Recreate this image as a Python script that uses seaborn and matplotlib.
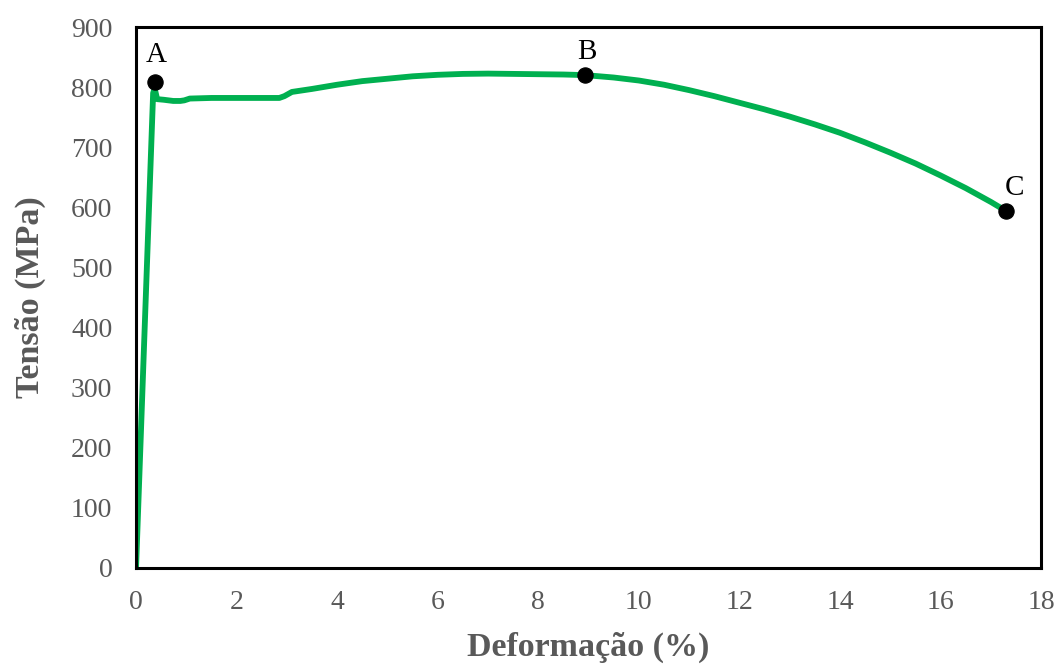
import matplotlib
matplotlib.use("Agg")
import matplotlib.pyplot as plt
import seaborn as sns
import pandas as pd

strain = [0.0, 0.34, 0.37, 0.42, 0.55, 0.74, 0.88, 0.96, 1.07, 1.5, 2.0, 2.5, 2.85, 2.95, 3.1, 3.5, 4.0, 4.5, 5.0, 5.5,
          6.0, 6.5, 7.0, 7.5, 8.0, 8.5, 8.93, 9.5, 10.0, 10.5, 11.0, 11.5, 12.0, 12.5, 13.0, 13.5, 14.0, 14.5,
          15.0, 15.5, 16.0, 16.5, 17.0, 17.3]
stress = [0.0, 790, 798, 780, 779, 777, 777, 778, 781, 782, 782, 782, 782, 785, 792, 797, 804, 810, 814, 818,
          820.5, 822, 822.5, 822, 821.5, 821, 820, 816, 811, 804, 795, 785, 774, 763, 751, 738, 724, 708,
          691, 673, 653, 632, 609, 594]

point_labels = ["A", "B", "C"]
point_x = [0.38, 8.93, 17.3]
point_y = [808, 820, 594]
label_x = [0.4, 8.97, 17.47]
label_y = [853, 858, 632]

sns.set_theme(style="white")
plt.rcParams["font.family"] = ["Liberation Serif", "DejaVu Serif"]

fig = plt.figure(figsize=(10.57, 6.64), dpi=100)
ax = fig.add_axes([0.1287, 0.1446, 0.8563, 0.8147])

df = pd.DataFrame({"x": strain, "y": stress})
sns.lineplot(data=df, x="x", y="y", sort=False, color="#00B050", linewidth=4.2, ax=ax)
pts = pd.DataFrame({"x": point_x, "y": point_y})
sns.scatterplot(data=pts, x="x", y="y", color="black", s=120, edgecolor="black", zorder=5, ax=ax)
for t, x, y in zip(point_labels, label_x, label_y):
    ax.text(x, y, t, ha="center", va="center", fontsize=21, color="black")

ax.set_xlim(0, 18)
ax.set_ylim(0, 900)
ax.set_xticks(range(0, 19, 2))
ax.set_yticks(range(0, 901, 100))
ax.tick_params(axis="both", length=0, labelsize=20, labelcolor="#595959")
ax.tick_params(axis="y", pad=17)
ax.tick_params(axis="x", pad=16)
ax.set_xlabel("Deformação (%)", fontsize=24.5, fontweight="bold", color="#595959", labelpad=12)
ax.set_ylabel("Tensão (MPa)", fontsize=24.5, fontweight="bold", color="#595959", labelpad=18)
for s in ax.spines.values():
    s.set_visible(True)
    s.set_color("black")
    s.set_linewidth(2.2)

fig.savefig("out.png", dpi=100)
